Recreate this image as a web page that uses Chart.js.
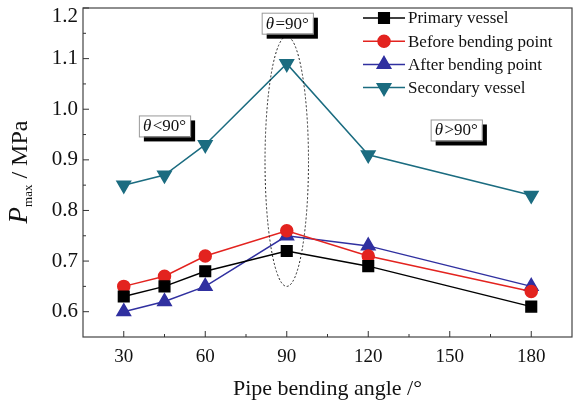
<!DOCTYPE html>
<html><head><meta charset="utf-8">
<script src="https://cdn.jsdelivr.net/npm/chart.js@4"></script>
<style>html,body{margin:0;padding:0;background:#fff}#wrap{width:573px;height:406px}</style>
</head><body><div id="wrap"><canvas id="c"></canvas></div>
<script>
const angles = [30,45,60,90,120,180];
const primaryVessel = [0.63,0.65,0.68,0.72,0.69,0.61];
const beforeBend = [0.65,0.67,0.71,0.76,0.71,0.64];
const afterBend = [0.60,0.62,0.65,0.75,0.73,0.65];
const secondaryVessel = [0.85,0.87,0.93,1.09,0.91,0.83];
const xTicks = [30,60,90,120,150,180];
const xMinor = [45,75,105,135,165];
const yTicks = [0.6,0.7,0.8,0.9,1.0,1.1,1.2];
const yMinor = [0.65,0.75,0.85,0.95,1.05,1.15];
const labels = ['Primary vessel','Before bending point','After bending point','Secondary vessel'];
const callouts = [
  {op:'=', x:90.2, y:1.17},
  {op:'<', x:45, y:0.967},
  {op:'>', x:152.4, y:0.959}
];
const ellipse = {x:90, yTop:1.144, yBottom:0.65, halfWidth:8};

const SERIF = '"Liberation Serif","Times New Roman",serif';
const pts = vals => angles.map((a,i)=>({x:a, y:vals[i]}));

function ds(label, vals, color, style, extra){
  return Object.assign({
    label, data: pts(vals), borderColor: color, backgroundColor: color,
    borderWidth: 1.5, pointStyle: style, pointRadius: 6.5, pointHoverRadius: 6.5,
    pointBorderColor: color, pointBackgroundColor: color, tension: 0
  }, extra||{});
}

const datasets = [
  ds(labels[0], primaryVessel, '#000000', 'rect', {pointRadius:7.5, pointHoverRadius:7.5}),
  ds(labels[1], beforeBend, '#e3231f', 'circle', {pointRadius:6}),
  ds(labels[2], afterBend, '#3030a0', 'triangle', {pointRadius:7.8}),
  ds(labels[3], secondaryVessel, '#1b6c80', 'triangle', {pointRadius:7.8, pointRotation:180})
];

const decor = {
  id:'decor',
  afterDatasetsDraw(chart){
    const {ctx, chartArea:a, scales:{x,y}} = chart;
    ctx.save();
    // frame
    ctx.strokeStyle = '#444'; ctx.lineWidth = 1.2;
    ctx.strokeRect(a.left, a.top, a.right-a.left, a.bottom-a.top);
    // inward ticks
    ctx.strokeStyle = '#333'; ctx.lineWidth = 1;
    ctx.beginPath();
    xTicks.forEach(v=>{const px=x.getPixelForValue(v); ctx.moveTo(px,a.bottom); ctx.lineTo(px,a.bottom-6);});
    xMinor.forEach(v=>{const px=x.getPixelForValue(v); ctx.moveTo(px,a.bottom); ctx.lineTo(px,a.bottom-3);});
    yTicks.forEach(v=>{const py=y.getPixelForValue(v); ctx.moveTo(a.left,py); ctx.lineTo(a.left+6,py);});
    yMinor.forEach(v=>{const py=y.getPixelForValue(v); ctx.moveTo(a.left,py); ctx.lineTo(a.left+3,py);});
    ctx.stroke();
    // top y label, pushed down so it is not cut off
    ctx.fillStyle = '#111'; ctx.font = '21px '+SERIF; ctx.textAlign = 'right'; ctx.textBaseline = 'middle';
    ctx.fillText(yTicks[yTicks.length-1].toFixed(1), a.left-5, a.top+8);
    // dotted ellipse
    const cx = x.getPixelForValue(ellipse.x);
    const t = y.getPixelForValue(ellipse.yTop), b = y.getPixelForValue(ellipse.yBottom);
    const rx = x.getPixelForValue(ellipse.x+ellipse.halfWidth) - cx;
    ctx.setLineDash([2,2]); ctx.strokeStyle = '#222'; ctx.lineWidth = 1;
    ctx.beginPath(); ctx.ellipse(cx,(t+b)/2,rx,(b-t)/2,0,0,Math.PI*2); ctx.stroke();
    ctx.setLineDash([]);
    // callout boxes
    callouts.forEach(c=>{
      const px = x.getPixelForValue(c.x), py = y.getPixelForValue(c.y);
      ctx.font = 'italic 17px '+SERIF;
      const w1 = ctx.measureText('θ').width;
      ctx.font = '17px '+SERIF;
      const rest = c.op+'90°';
      const w2 = ctx.measureText(rest).width;
      const gap = 1.5;
      const w = w1+w2+gap+8, h = 21;
      const l = px-w/2, tp = py-h/2;
      ctx.fillStyle = '#000'; ctx.fillRect(l+5, tp+5, w, h);
      ctx.fillStyle = '#fff'; ctx.fillRect(l, tp, w, h);
      ctx.strokeStyle = '#999'; ctx.lineWidth = 1; ctx.strokeRect(l+0.5, tp+0.5, w, h);
      ctx.fillStyle = '#111'; ctx.textBaseline = 'middle'; ctx.textAlign = 'left';
      ctx.font = 'italic 17px '+SERIF; ctx.fillText('θ', l+4, py+1);
      ctx.font = '17px '+SERIF; ctx.fillText(rest, l+4+w1+gap, py+1);
    });
    // legend
    chart.data.datasets.forEach((d,i)=>{
      const ly = 18 + i*23.2, lx0 = 363, lx1 = 405, mx = 384;
      ctx.strokeStyle = d.borderColor; ctx.lineWidth = 1.5;
      ctx.beginPath(); ctx.moveTo(lx0,ly); ctx.lineTo(lx1,ly); ctx.stroke();
      Chart.helpers.drawPoint(ctx, {pointStyle:d.pointStyle, rotation:d.pointRotation||0, radius:d.pointRadius, borderWidth:1}, mx, ly);
      ctx.fillStyle = d.borderColor;
      ctx.fill();
      ctx.fillStyle = '#111'; ctx.font = '17px '+SERIF; ctx.textBaseline='middle'; ctx.textAlign='left';
      ctx.fillText(d.label, 408, ly+1);
    });
    // y title
    ctx.translate(19, 172); ctx.rotate(-Math.PI/2);
    ctx.font = 'italic 27px '+SERIF; const wP = ctx.measureText('P').width;
    ctx.font = '13px '+SERIF; const wS = ctx.measureText('max').width;
    ctx.font = '24px '+SERIF; const wU = ctx.measureText(' / MPa').width;
    let sx = -(wP+wS+wU)/2;
    ctx.fillStyle = '#111'; ctx.textBaseline = 'alphabetic';
    ctx.font = 'italic 27px '+SERIF; ctx.fillText('P', sx, 8); sx += wP;
    ctx.font = '13px '+SERIF; ctx.fillText('max', sx, 13); sx += wS;
    ctx.font = '24px '+SERIF; ctx.fillText(' / MPa', sx, 8);
    ctx.restore();
  }
};

new Chart(document.getElementById('c'), {
  type:'line',
  data:{datasets},
  options:{
    responsive:true, maintainAspectRatio:false, animation:false,
    layout:{autoPadding:false, padding:{top:8, right:1, left:0, bottom:0}},
    plugins:{legend:{display:false}, tooltip:{enabled:false}},
    scales:{
      x:{type:'linear', min:15, max:195,
        afterBuildTicks:s=>{s.ticks = xTicks.map(v=>({value:v}));},
        afterFit:s=>{s.height = 69; s.paddingLeft = 0; s.paddingRight = 0;},
        grid:{display:false, drawTicks:false}, border:{display:false},
        ticks:{color:'#111', font:{family:SERIF, size:19}, padding:9, maxRotation:0},
        title:{display:true, text:'Pipe bending angle /°', color:'#111', font:{family:SERIF, size:22}, padding:{top:2}}
      },
      y:{type:'linear', min:0.55, max:1.2,
        afterBuildTicks:s=>{s.ticks = yTicks.map(v=>({value:v}));},
        afterFit:s=>{s.width = 83; s.paddingTop = 0; s.paddingBottom = 0;},
        grid:{display:false, drawTicks:false}, border:{display:false},
        ticks:{color:'#111', font:{family:SERIF, size:21}, padding:5,
          callback:v=> v === yTicks[yTicks.length-1] ? '' : v.toFixed(1)}
      }
    }
  },
  plugins:[decor]
});
</script></body></html>
